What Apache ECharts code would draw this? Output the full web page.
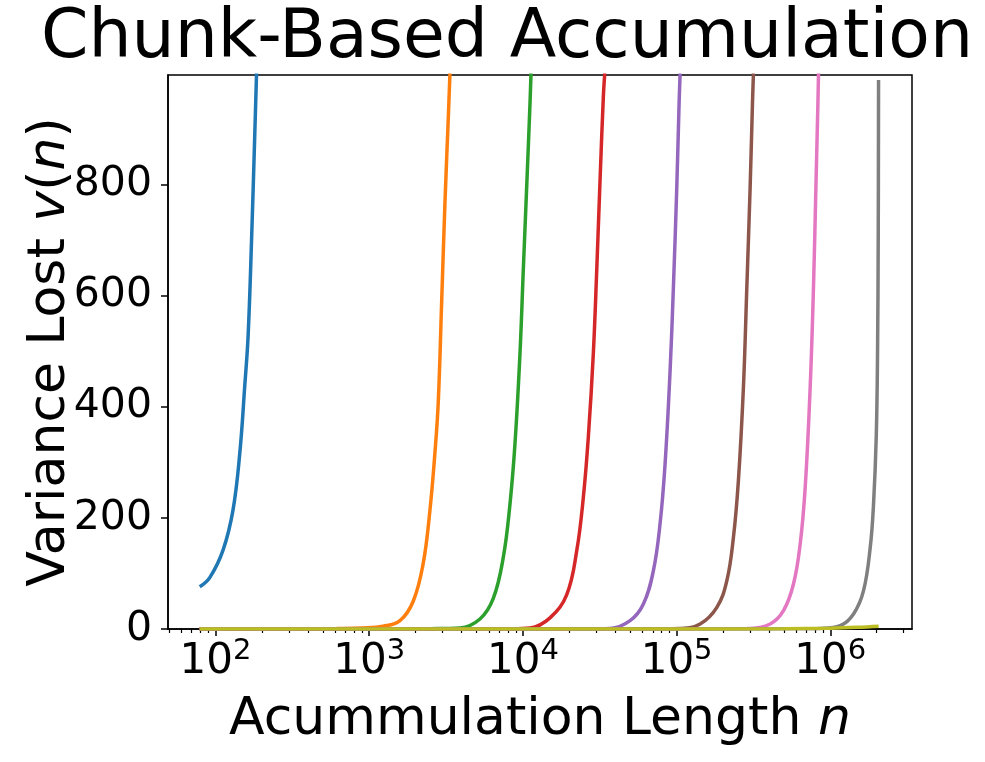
<!DOCTYPE html>
<html>
<head>
<meta charset="utf-8">
<script src="https://cdn.jsdelivr.net/npm/echarts@6/dist/echarts.min.js"></script>
<style>
  html, body { margin: 0; padding: 0; background: #fff; }
  #chart { width: 985px; height: 762px; }
</style>
</head>
<body>
<div id="chart"></div>
<script>
// Axis ticks
const xMajorTicks = [1e2, 1e3, 1e4, 1e5, 1e6];
const xMinorTicks = [50, 60, 70, 80, 90,
    200, 300, 400, 500, 600, 700, 800, 900,
    2000, 3000, 4000, 5000, 6000, 7000, 8000, 9000,
    2e4, 3e4, 4e4, 5e4, 6e4, 7e4, 8e4, 9e4,
    2e5, 3e5, 4e5, 5e5, 6e5, 7e5, 8e5, 9e5,
    2e6, 3e6];
const yTicks = [0, 200, 400, 600, 800];

// Curves (n, v(n))
const blueN = [79, 92, 112, 130, 144, 155, 163, 172, 180, 185];
const blueV = [76, 93, 142, 214, 317, 437, 527, 707, 887, 1000];

const orangeN = [79, 300, 616, 900, 1233, 1585, 1934, 2246, 2485, 2677, 2813, 2960, 3111, 3268, 3353];
const orangeV = [0, 0.3, 1, 2, 5, 15, 50, 118, 214, 317, 407, 587, 767, 917, 1000];

const greenN = [79, 1000, 2500, 3895, 5257, 6417, 7456, 8241, 8885, 9574, 10060, 10586, 11124, 11293];
const greenV = [0, 0.1, 0.6, 2, 18, 55, 129, 225, 334, 496, 646, 796, 946, 1000];

const redN = [79, 3000, 8000, 11124, 15012, 19291, 22404, 24733, 26661, 28725, 30231, 31769, 33377, 34090];
const redV = [0, 0.1, 0.6, 2, 20, 62, 141, 237, 346, 496, 646, 808, 958, 1000];

const purpleN = [79, 10000, 25000, 36900, 49813, 60798, 70632, 78100, 84190, 90740, 95330, 100300, 103800, 105400];
const purpleV = [0, 0.1, 0.3, 1, 15, 45, 105, 190, 298, 466, 616, 796, 946, 1000];

const brownN = [79, 30000, 80000, 105400, 142200, 182700, 212300, 234300, 252500, 272200, 286400, 301000, 311600, 316200];
const brownV = [0, 0.1, 0.3, 1, 9, 39, 87, 165, 268, 436, 616, 796, 946, 1000];

const pinkN = [79, 80000, 200000, 301000, 406200, 495900, 576000, 636800, 686500, 739800, 777400, 806000, 830500, 838000];
const pinkV = [0, 0.1, 0.3, 1, 9, 33, 81, 153, 255, 436, 616, 796, 946, 1000];

const grayN = [79, 250000, 600000, 859500, 1160000, 1416000, 1645000, 1819000, 1911000, 1990000, 2029000, 2050000, 2060000];
const grayV = [0, 0.1, 0.3, 1, 6, 27, 69, 147, 225, 346, 496, 706, 988];

const oliveN = [79, 100000, 500000, 1000000, 1500000, 2060000];
const oliveV = [0, 0.1, 0.5, 1.5, 3, 5];

const curves = [
    [blueN, blueV, '#1f77b4'],
    [orangeN, orangeV, '#ff7f0e'],
    [greenN, greenV, '#2ca02c'],
    [redN, redV, '#d62728'],
    [purpleN, purpleV, '#9467bd'],
    [brownN, brownV, '#8c564b'],
    [pinkN, pinkV, '#e377c2'],
    [grayN, grayV, '#7f7f7f'],
    [oliveN, oliveV, '#bcbd22']
];

const xMin = 49.1;
const xMax = 3.4e6;
const font = 'DejaVu Sans';

const chart = echarts.init(document.getElementById('chart'));

const series = curves.map(([ns, vs, color]) => ({
    type: 'line',
    xAxisIndex: 0,
    data: ns.map((n, i) => [n, vs[i]]),
    showSymbol: false,
    smooth: 0.4,
    lineStyle: { color: color, width: 3.5 },
    itemStyle: { color: color },
    animation: false
}));

chart.setOption({
    animation: false,
    backgroundColor: '#fff',
    title: {
        text: 'Chunk-Based Accumulation',
        left: 502,
        top: 0,
        textAlign: 'center',
        textStyle: { fontFamily: font, fontSize: 68, fontWeight: 'normal', color: '#000' }
    },
    grid: {
        left: 168, right: 73, top: 75, bottom: 133,
        show: true, borderColor: '#000', borderWidth: 1.5, backgroundColor: 'transparent'
    },
    xAxis: [{
        type: 'log',
        min: xMin,
        max: xMax,
        name: 'Acummulation Length {it|n}',
        nameLocation: 'middle',
        nameGap: 65,
        nameTextStyle: {
            fontFamily: font, fontSize: 52, color: '#000',
            rich: { it: { fontFamily: font, fontSize: 52, fontStyle: 'italic', color: '#000' } }
        },
        axisLine: { show: true, lineStyle: { color: '#000', width: 1.5 } },
        axisTick: { show: true, customValues: xMajorTicks, length: 7, lineStyle: { color: '#000', width: 1.5 } },
        splitLine: { show: false },
        axisLabel: {
            customValues: xMajorTicks,
            margin: 8,
            formatter: v => '{b|10}{sup|' + Math.round(Math.log10(v)) + '}',
            rich: {
                b: { fontFamily: font, fontSize: 42, color: '#000', lineHeight: 46, verticalAlign: 'bottom' },
                sup: { fontFamily: font, fontSize: 29, color: '#000', lineHeight: 29, verticalAlign: 'top' }
            }
        }
    }, {
        type: 'log',
        min: xMin,
        max: xMax,
        position: 'bottom',
        axisLine: { show: false },
        axisLabel: { show: false },
        splitLine: { show: false },
        axisTick: { show: true, customValues: xMinorTicks, length: 4, lineStyle: { color: '#000', width: 1.2 } }
    }],
    yAxis: {
        type: 'value',
        min: 0,
        max: 997,
        name: 'Variance Lost {it|v}({it|n})',
        nameLocation: 'middle',
        nameGap: 92,
        nameMoveOverlap: false,
        nameTextStyle: {
            fontFamily: font, fontSize: 52, color: '#000',
            rich: { it: { fontFamily: font, fontSize: 52, fontStyle: 'italic', color: '#000' } }
        },
        axisLine: { show: true, lineStyle: { color: '#000', width: 1.5 } },
        axisTick: { show: true, customValues: yTicks, length: 7, lineStyle: { color: '#000', width: 1.5 } },
        splitLine: { show: false },
        axisLabel: {
            customValues: yTicks,
            margin: 16,
            fontFamily: font, fontSize: 41, color: '#000'
        }
    },
    series: series
});
</script>
</body>
</html>
